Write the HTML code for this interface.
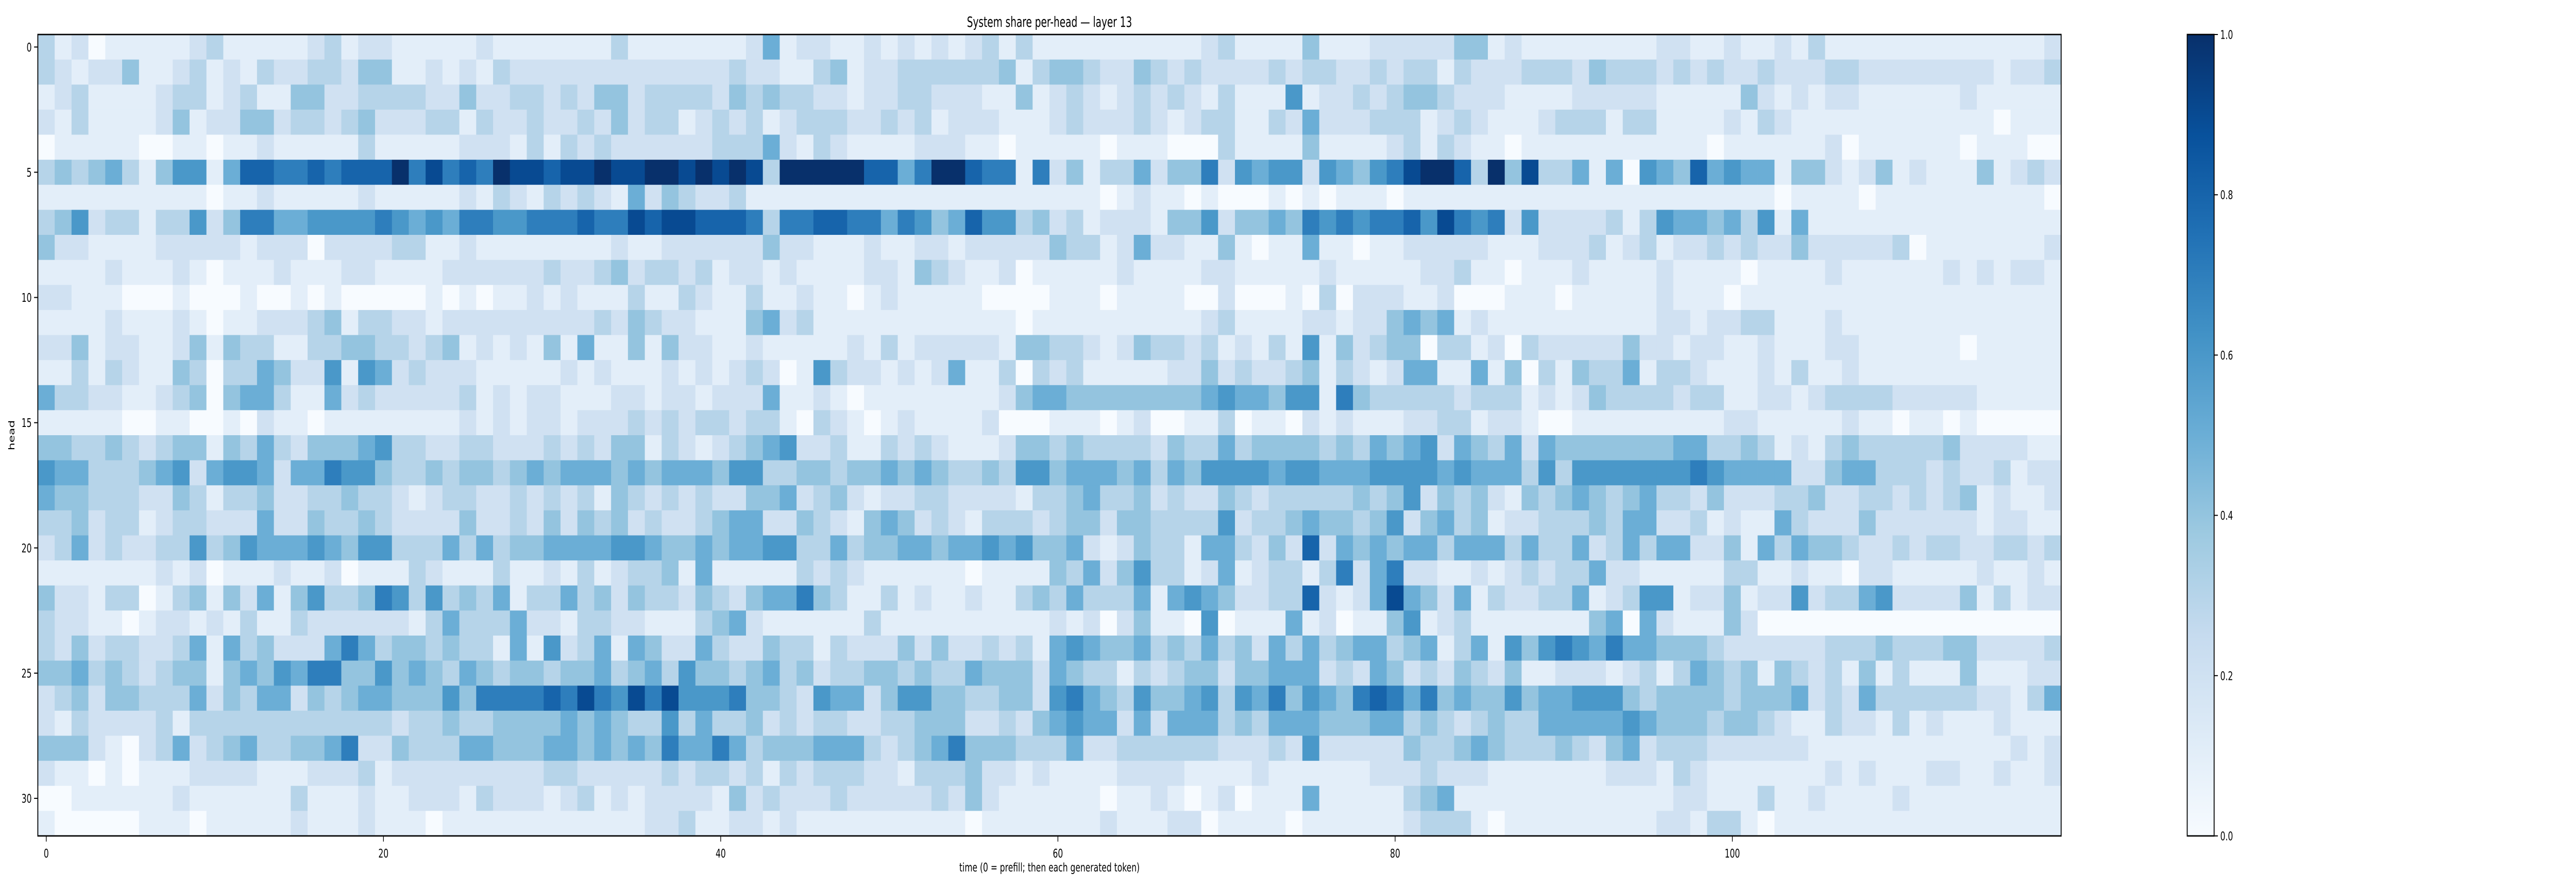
<!DOCTYPE html>
<html><head><meta charset="utf-8"><style>
html,body{margin:0;padding:0;background:#fff;overflow:hidden;width:100%;height:100%;}
svg{display:block;position:absolute;left:0;top:0;width:100vw;height:100vh;font-family:"DejaVu Sans","Liberation Sans",sans-serif;}
</style></head><body>
<svg id="chart" viewBox="0 0 7560 1728" preserveAspectRatio="none" xmlns="http://www.w3.org/2000/svg">
<rect x="0" y="0" width="7560" height="1728" fill="#fff"/>
<g id="cells"></g>
<g id="axes"></g>
<defs><linearGradient id="cbg" x1="0" y1="1" x2="0" y2="0">
<stop offset="0" stop-color="#f7fbff"/><stop offset="0.125" stop-color="#deebf7"/><stop offset="0.25" stop-color="#c6dbef"/><stop offset="0.375" stop-color="#9ecae1"/><stop offset="0.5" stop-color="#6baed6"/><stop offset="0.625" stop-color="#4292c6"/><stop offset="0.75" stop-color="#2171b5"/><stop offset="0.875" stop-color="#08519c"/><stop offset="1" stop-color="#08306b"/>
</linearGradient></defs>
<g id="cbar"></g>
<text x="3080" y="52" font-size="28" text-anchor="middle">System share per-head — layer 13</text>
<text x="3080" y="1692" font-size="23.5" text-anchor="middle">time (0 = prefill; then each generated token)</text>
<text x="0" y="0" font-size="23.5" text-anchor="middle" transform="translate(42,845) rotate(-90)">head</text>
</svg>
<script>
// values in tenths (0..10), per head row, left half (t=0..59) and right half (t=60..119)
const leftRows = [
[3,1,2,0,1,1,1,1,1,2,3,1,1,1,1,1,2,3,1,2,2,1,1,1,1,1,2,1,1,1,1,1,1,1,3,1,1,1,1,1,1,1,2,5,1,2,2,1,1,2,1,2,1,2,1,2,3,1,3,1],
[3,2,1,2,2,4,1,1,2,3,1,2,1,3,2,2,3,3,2,4,4,1,1,2,1,2,1,3,2,2,2,2,2,2,2,2,2,2,2,2,2,3,2,2,1,1,3,4,1,2,2,3,3,3,3,3,3,4,1,3],
[1,2,3,1,1,1,1,2,3,3,1,2,3,1,1,4,4,2,2,3,3,3,3,2,2,4,2,2,3,3,2,3,2,4,4,2,3,3,3,3,2,4,3,4,3,3,2,2,1,2,2,3,3,2,2,2,1,1,4,1],
[2,1,3,1,1,1,1,2,4,1,2,2,4,4,2,3,3,2,3,4,2,2,2,3,3,1,3,2,2,3,2,2,3,2,4,2,3,3,1,2,3,2,3,1,2,3,3,3,2,2,3,2,3,1,2,2,2,1,1,1],
[0,1,1,1,1,1,0,0,1,1,0,1,1,2,1,1,1,1,1,3,1,1,1,1,1,2,2,2,1,3,1,3,2,3,2,2,2,2,2,2,3,3,3,5,2,1,3,2,1,1,1,1,2,2,2,1,1,0,1,1],
[3,4,3,4,5,3,1,4,6,6,1,5,8,8,7,7,8,7,8,8,8,10,7,9,7,8,7,10,9,9,8,9,9,10,9,9,10,10,9,10,9,10,9,3,10,10,10,10,10,8,8,5,7,10,10,8,7,7,1,7],
[1,1,1,1,1,1,1,1,1,1,0,1,1,2,1,1,1,1,1,2,1,1,1,1,1,2,1,3,2,1,3,2,3,2,1,5,2,4,3,2,2,3,1,1,1,1,1,1,1,1,1,1,1,1,1,1,1,1,1,1],
[3,4,6,2,3,3,1,3,3,6,2,4,7,7,5,5,6,6,6,6,7,6,5,6,5,7,7,6,6,7,7,7,8,7,7,9,8,9,9,8,8,8,7,3,7,7,8,8,7,7,5,7,6,4,5,8,6,6,3,4],
[4,2,2,1,1,1,1,2,2,2,2,2,1,2,2,2,0,2,2,2,2,3,3,1,1,2,1,1,1,1,1,1,1,1,2,1,1,2,2,2,2,2,2,4,2,2,1,1,1,2,1,1,2,2,1,2,2,2,2,2],
[1,1,1,1,2,1,1,1,2,1,0,1,1,1,2,1,1,1,2,2,1,1,1,1,2,2,2,2,2,2,3,2,2,3,4,2,3,3,2,3,1,2,2,1,2,1,1,1,1,2,2,1,4,3,2,1,1,2,0,1],
[2,2,1,1,1,0,0,0,1,0,0,0,1,0,0,1,0,1,0,0,0,0,0,1,0,1,0,1,1,2,1,2,1,1,1,3,1,1,3,2,1,1,3,1,1,2,1,1,0,1,2,1,1,1,1,1,0,0,0,0],
[1,1,1,1,2,1,1,1,2,1,0,1,1,2,2,2,3,4,1,3,3,2,2,1,2,2,2,2,2,2,2,2,2,3,2,4,3,2,2,1,1,1,4,5,2,3,1,1,1,1,1,1,1,1,1,1,1,1,0,1],
[2,2,4,1,2,2,1,1,2,4,1,4,3,3,1,1,3,3,4,4,3,3,2,3,4,1,2,1,2,1,4,1,5,1,1,4,1,4,2,2,1,1,2,1,1,1,1,1,2,1,3,1,2,2,2,2,2,1,4,4],
[1,1,3,1,3,2,1,1,4,3,0,3,3,5,4,2,2,6,1,6,5,2,3,2,2,2,1,1,1,1,1,2,1,2,1,1,1,2,1,2,1,2,3,2,0,1,6,3,2,2,1,2,1,2,5,1,1,3,0,3],
[5,3,3,2,2,1,1,2,3,4,0,4,5,5,3,1,1,5,2,3,2,2,2,2,2,3,1,2,1,2,2,1,1,1,2,2,1,2,2,1,2,2,2,5,1,1,2,1,0,1,1,1,1,1,1,1,1,2,4,5],
[1,1,1,1,1,0,0,1,1,0,0,1,0,2,1,1,0,1,1,1,1,1,1,1,1,2,1,2,1,2,2,1,2,2,2,3,2,3,2,3,3,2,3,3,1,0,3,2,1,0,1,2,1,1,1,1,2,0,0,0],
[4,4,3,3,4,3,2,3,4,4,1,4,3,5,3,2,4,4,4,5,6,3,3,2,2,3,3,2,2,2,3,2,3,2,4,4,1,3,2,1,2,3,4,5,6,2,2,3,1,1,3,2,3,2,1,1,1,2,4,4],
[6,5,5,3,3,3,4,5,6,2,5,6,6,5,2,5,5,7,6,6,4,3,3,4,3,4,4,3,4,5,4,5,5,5,4,5,4,5,5,5,4,6,6,3,3,4,4,3,4,4,5,4,5,4,3,3,4,3,6,6],
[5,4,4,3,3,3,2,2,4,3,1,3,3,4,2,2,3,3,4,3,3,2,1,2,3,3,2,2,3,2,3,2,3,1,4,3,2,3,2,3,2,2,4,4,5,2,3,4,2,1,2,2,3,3,2,2,2,2,1,3],
[3,3,4,2,3,3,1,2,3,3,2,2,2,5,2,2,4,3,3,4,3,2,2,2,2,4,2,2,3,2,4,2,4,3,4,2,3,2,2,3,4,5,5,2,2,4,3,2,1,4,5,4,2,3,2,1,3,3,3,2],
[2,3,5,2,3,2,2,3,3,6,3,4,6,5,5,5,6,5,4,6,6,3,3,3,5,3,5,3,4,4,5,5,5,5,6,6,5,4,4,5,4,5,5,6,6,3,3,5,3,4,4,5,5,4,5,5,6,5,6,4],
[1,1,1,1,1,1,1,2,1,2,0,1,1,1,2,1,1,2,0,1,1,1,3,2,1,1,1,3,1,1,2,1,3,1,2,3,3,4,1,5,1,1,1,1,1,3,2,3,2,1,1,1,1,1,1,0,1,1,1,1],
[4,2,2,1,3,3,0,1,3,4,1,4,2,5,1,4,6,3,3,4,7,6,3,6,3,4,3,5,1,3,3,5,3,4,2,4,3,3,2,4,3,2,4,5,5,7,4,3,1,1,3,1,2,1,1,2,1,1,3,4],
[3,2,2,1,1,0,1,2,2,1,2,1,3,1,1,3,2,2,2,2,2,2,1,3,5,3,3,3,5,2,2,1,3,3,2,2,1,1,1,3,4,5,2,1,1,1,1,1,1,3,1,1,1,1,1,1,1,1,1,1],
[3,2,4,2,3,3,2,2,3,5,1,5,3,4,2,2,2,5,7,5,3,4,4,3,4,3,3,1,5,1,6,2,3,5,1,5,4,2,2,5,3,2,2,4,3,3,1,3,2,2,2,4,2,4,2,2,3,2,3,1],
[4,4,5,3,4,3,2,3,4,4,1,4,5,4,6,5,7,7,4,4,6,4,5,4,3,5,4,3,4,4,3,4,4,5,3,4,5,3,6,4,4,3,4,5,3,4,2,3,3,4,4,3,4,3,3,5,4,4,4,2],
[2,3,4,2,4,4,3,3,3,5,2,4,3,5,5,2,4,3,4,5,5,4,4,4,6,4,7,7,7,7,8,7,9,7,6,9,7,9,6,6,6,7,4,4,3,2,6,5,5,2,4,6,6,4,4,3,3,4,4,2],
[2,1,3,2,2,2,2,3,1,3,3,3,3,3,3,3,3,3,3,3,3,2,3,3,4,3,3,4,4,4,4,5,4,5,4,3,3,6,3,5,3,3,4,2,3,2,3,3,2,2,3,3,4,4,4,2,2,3,2,4],
[4,4,4,2,1,0,2,3,5,2,3,4,5,3,3,4,4,5,7,2,2,4,3,3,3,5,5,4,4,4,5,5,4,5,4,5,4,7,5,5,7,5,3,4,4,4,5,5,5,3,2,3,4,5,7,4,4,4,3,3],
[2,1,1,0,1,0,1,1,1,2,2,2,2,1,1,1,2,2,2,3,1,2,2,2,2,2,2,2,2,2,3,3,2,2,2,2,2,3,2,3,3,2,3,1,3,2,3,3,3,2,2,1,3,3,3,4,2,2,1,2],
[0,0,1,1,1,1,1,1,2,1,1,1,1,1,1,3,1,1,1,2,1,1,2,2,2,1,3,2,2,2,1,2,3,1,2,1,2,2,2,2,1,4,2,3,2,2,2,3,2,2,2,2,2,3,2,4,2,1,1,1],
[1,0,0,0,0,0,1,1,1,0,1,1,1,1,1,2,1,1,1,2,1,1,1,0,1,1,1,1,1,1,1,1,1,1,1,1,2,2,3,1,1,2,2,1,2,1,1,1,1,1,1,1,1,1,1,0,1,1,1,1]
];
const rightRows = [
[1,1,1,1,1,1,1,1,1,2,3,1,1,1,1,4,1,1,1,2,2,2,2,2,4,4,1,2,1,1,1,1,1,1,1,1,2,2,1,1,2,1,1,2,1,3,1,1,1,1,1,1,1,1,1,1,1,1,1,2],
[4,4,3,2,2,4,3,2,3,2,2,2,2,3,2,3,3,2,2,3,2,3,3,1,3,2,2,2,3,3,3,2,4,3,3,3,2,3,2,3,2,2,3,2,2,2,3,3,2,2,2,2,2,2,2,2,1,2,2,3],
[2,3,2,1,2,3,2,3,2,1,3,1,1,1,6,1,2,2,3,2,3,4,4,3,2,2,2,1,1,1,1,2,2,2,2,2,1,1,1,1,1,4,2,1,2,1,2,2,1,1,1,1,1,1,2,1,1,1,1,1],
[2,3,2,2,2,3,2,1,2,3,3,1,1,3,2,5,2,2,2,3,3,3,1,2,3,2,1,1,1,2,3,3,3,1,3,3,1,1,1,1,2,1,3,2,1,1,1,1,1,1,1,1,1,1,1,1,0,1,1,1],
[1,1,1,0,1,1,1,0,0,0,3,1,1,1,1,4,1,1,1,1,2,3,1,3,2,1,1,0,1,1,1,1,1,1,1,1,1,1,1,0,1,1,1,1,1,1,2,0,1,1,1,1,1,1,0,1,1,1,0,0],
[2,4,1,3,3,5,2,4,4,7,2,6,5,6,6,2,6,5,4,6,7,9,10,10,8,3,10,4,9,3,3,5,1,5,0,6,5,4,8,5,6,5,5,1,4,4,2,1,2,4,1,2,1,1,1,4,1,2,3,2],
[1,1,1,0,1,2,1,1,0,1,0,0,0,1,0,1,0,1,1,1,0,1,1,1,1,1,1,1,1,1,1,1,1,1,1,1,1,1,1,1,1,1,1,0,1,1,1,1,0,1,1,1,1,1,1,1,1,1,1,0],
[2,3,1,2,2,2,1,4,4,6,2,4,4,5,4,7,6,7,6,7,7,8,6,9,7,6,7,2,6,2,2,2,2,3,1,3,6,5,5,4,5,3,6,1,5,1,1,1,1,1,1,1,1,1,1,1,1,1,1,1],
[4,3,3,1,2,5,2,2,1,1,4,1,0,1,1,5,1,1,0,1,1,2,2,2,2,2,1,1,1,2,2,2,3,1,2,3,1,2,2,3,2,3,2,2,4,2,2,2,2,2,3,0,1,1,1,1,1,1,1,2],
[1,1,1,1,2,1,1,1,1,2,2,1,1,1,1,1,2,1,1,1,1,1,2,2,3,1,1,0,1,1,1,2,1,1,1,1,2,1,1,1,1,0,1,1,1,1,2,1,1,1,1,1,1,2,1,2,1,2,2,1],
[1,1,1,0,1,1,1,1,0,0,2,0,0,0,1,0,3,0,2,2,2,1,1,2,0,0,0,1,1,1,0,1,1,1,1,1,2,1,1,1,0,1,1,1,1,1,1,1,1,1,1,1,1,1,1,1,1,1,1,1],
[1,1,1,1,1,1,1,1,1,2,3,1,1,1,1,2,2,1,2,2,4,5,4,5,1,2,1,1,1,1,1,1,1,1,1,1,2,2,1,2,2,3,3,1,1,1,2,1,1,1,1,1,1,1,1,1,1,1,1,1],
[3,3,2,1,2,4,3,3,2,3,1,2,1,3,1,6,1,4,2,3,4,4,0,3,3,1,2,0,3,2,2,2,2,2,4,2,2,1,2,2,1,1,2,1,1,1,2,2,1,1,1,1,1,1,0,1,1,1,1,1],
[2,3,1,1,1,1,1,2,2,4,2,3,2,2,3,4,1,3,2,1,2,5,5,1,1,5,1,4,0,3,1,4,3,3,5,1,3,3,2,1,1,1,2,1,3,1,1,2,1,1,1,1,1,1,1,1,1,1,1,1],
[5,4,4,4,4,4,4,4,4,5,6,5,5,4,6,6,1,7,4,3,3,3,3,3,2,3,3,3,1,2,1,2,4,3,3,3,3,2,3,3,1,1,2,2,1,2,3,3,3,3,2,2,2,2,2,1,1,1,1,1],
[1,1,1,0,1,2,0,0,1,1,3,0,1,1,0,2,1,2,1,1,1,2,2,3,3,1,2,2,1,0,0,1,1,1,1,1,1,1,1,1,2,2,1,1,1,1,1,2,1,1,0,1,1,0,1,0,0,0,0,0],
[3,4,3,3,3,3,2,4,3,3,5,3,4,4,4,4,3,4,3,5,4,5,6,2,5,4,3,5,2,5,4,4,4,4,4,4,4,5,5,3,3,4,3,1,2,1,3,4,3,3,3,3,3,4,2,2,2,2,1,1],
[4,5,5,5,4,5,3,5,4,6,6,6,6,5,6,6,5,5,5,6,6,6,6,5,6,5,5,5,3,6,3,6,6,6,6,6,6,6,7,6,5,5,5,5,2,2,4,5,5,3,3,3,2,3,2,2,3,1,2,2],
[3,4,5,3,3,4,2,3,2,2,4,3,2,3,3,3,3,3,4,3,4,6,2,4,3,4,2,1,4,3,4,5,4,3,4,5,3,3,2,4,2,2,2,3,3,4,2,2,3,3,2,3,2,3,4,1,2,1,1,2],
[3,4,4,2,4,4,3,3,3,3,6,2,3,3,4,5,4,4,3,4,6,2,4,5,3,4,1,2,2,3,3,3,4,3,5,5,2,2,3,1,2,1,1,5,3,2,2,2,4,2,2,2,2,2,2,1,2,2,1,1],
[4,5,2,1,2,4,3,3,1,5,5,3,2,4,2,8,2,5,4,5,4,5,5,3,5,5,5,3,5,3,3,5,2,3,5,3,5,5,2,2,4,1,5,3,5,4,4,3,2,2,3,2,3,3,2,2,3,3,2,3],
[4,3,5,2,4,6,3,3,1,2,5,1,2,3,3,1,3,7,2,5,7,2,2,1,1,2,1,2,3,2,3,3,5,2,2,1,1,1,1,1,3,3,1,1,2,1,1,0,2,2,1,1,1,1,1,2,1,1,2,1],
[3,5,3,3,3,5,1,5,6,5,4,2,2,3,3,8,2,1,2,5,9,5,4,2,5,1,3,2,2,3,3,5,1,2,3,6,6,1,2,2,4,1,2,2,6,2,3,3,5,6,2,2,2,2,4,1,3,1,2,2],
[2,1,2,0,2,4,1,1,0,6,0,1,1,1,5,1,2,0,1,1,4,6,1,2,3,1,1,1,1,1,1,1,4,5,0,5,2,1,1,1,4,2,0,0,0,0,0,0,0,0,0,0,0,0,0,0,0,0,0,0],
[5,6,5,4,4,5,3,4,3,5,3,4,2,5,3,5,3,4,5,5,3,4,5,1,3,5,1,6,4,6,7,6,5,7,5,5,4,4,4,3,2,2,2,2,2,2,3,3,3,4,3,3,3,4,4,2,2,2,2,3],
[5,4,3,3,1,3,2,3,4,4,2,4,4,5,5,5,2,3,2,5,4,2,3,2,4,3,2,4,1,1,2,2,2,1,2,3,1,3,5,4,3,4,1,4,3,2,3,1,4,1,3,1,1,1,4,1,1,1,2,2],
[6,7,5,4,3,6,4,4,5,6,3,6,5,7,4,6,5,4,7,8,7,5,7,4,5,4,4,6,4,5,5,6,6,6,4,3,4,4,4,4,3,4,4,4,5,2,3,2,5,3,3,3,3,3,3,2,2,1,3,5],
[5,6,5,5,2,5,2,5,5,5,3,4,3,5,5,5,4,4,4,5,5,3,4,3,2,3,4,3,3,5,5,5,5,5,6,5,4,4,4,3,4,4,3,2,1,1,3,2,2,1,3,1,2,1,1,1,2,1,1,1],
[3,5,2,2,3,3,3,3,3,3,2,2,2,3,2,6,2,2,2,2,2,4,3,3,4,5,4,3,3,3,4,3,2,4,5,2,3,3,3,2,2,2,2,2,2,1,1,1,1,1,1,1,1,1,1,1,1,2,1,2],
[1,1,1,1,2,2,2,2,1,1,1,1,2,1,1,1,1,1,1,2,2,2,3,2,2,2,1,1,1,1,1,1,1,2,2,2,1,3,2,1,1,1,1,1,1,1,2,1,2,1,1,1,2,2,1,1,2,1,1,2],
[1,1,1,0,1,1,2,1,0,1,2,0,1,1,1,5,1,1,1,1,1,3,4,5,1,1,1,1,1,1,1,1,1,1,1,1,1,2,2,1,1,1,3,1,1,2,1,1,1,1,2,1,1,1,1,1,1,1,1,1],
[1,1,1,2,1,1,1,2,2,0,1,1,1,1,0,1,1,1,1,1,1,2,3,3,3,1,0,1,1,1,1,1,1,1,1,1,2,2,1,3,3,1,0,1,1,1,1,1,1,1,1,1,1,1,1,1,1,1,1,1]
];
const valueScale = 10;
const xTickValues = [0,20,40,60,80,100];
const yTickValues = [0,5,10,15,20,25,30];
const cbarTickValues = [0,0.2,0.4,0.6,0.8,1.0];
const cbarTickLabels = ["0.0","0.2","0.4","0.6","0.8","1.0"];

const NS = "http://www.w3.org/2000/svg";
const plot = {x0:111, x1:6049, y0:67, y1:1623};
const nCols = 120, nRows = 32;
const cw = (plot.x1 - plot.x0) / nCols, ch = (plot.y1 - plot.y0) / nRows;
const xPos = t => plot.x0 + t * cw;
const yPos = h => plot.y0 + h * ch;
const stops = ["#f7fbff","#deebf7","#c6dbef","#9ecae1","#6baed6","#4292c6","#2171b5","#08519c","#08306b"];
function hex(c){return [parseInt(c.slice(1,3),16),parseInt(c.slice(3,5),16),parseInt(c.slice(5,7),16)];}
function blues(v){
  v = Math.max(0, Math.min(1, v));
  const p = v * (stops.length - 1), i = Math.min(stops.length - 2, Math.floor(p)), f = p - i;
  const a = hex(stops[i]), b = hex(stops[i+1]);
  return "rgb(" + a.map((x,k)=>Math.round(x + (b[k]-x)*f)).join(",") + ")";
}
function mk(tag, attrs, parent){const e=document.createElementNS(NS,tag);for(const k in attrs)e.setAttribute(k,attrs[k]);parent.appendChild(e);return e;}

const cells = document.getElementById("cells");
for (let h = 0; h < nRows; h++) {
  const row = leftRows[h].concat(rightRows[h]);
  for (let t = 0; t < row.length && t < nCols; t++) {
    const r = mk("rect", {x:xPos(t).toFixed(2), y:yPos(h).toFixed(2), width:(cw+0.6).toFixed(2), height:(ch+0.6).toFixed(2), fill:blues(row[t]/valueScale)}, cells);
    
    
  }
}

const axes = document.getElementById("axes");
const frame = mk("rect", {x:plot.x0, y:plot.y0, width:plot.x1-plot.x0, height:plot.y1-plot.y0, fill:"none", stroke:"#000", "stroke-width":2.7}, axes);


xTickValues.forEach(v => {
  const x = xPos(v + 0.5);
  const tk = mk("line", {x1:x, y1:plot.y1, x2:x, y2:plot.y1+11, stroke:"#000", "stroke-width":2}, axes);
  
  
  const tx = mk("text", {x:x, y:plot.y1+42, "font-size":23.5, "text-anchor":"middle"}, axes);
  tx.textContent = String(v);
  
  
});
yTickValues.forEach(v => {
  const y = yPos(v + 0.5);
  const tk = mk("line", {x1:plot.x0-11, y1:y, x2:plot.x0, y2:y, stroke:"#000", "stroke-width":2}, axes);
  
  
  const tx = mk("text", {x:plot.x0-18, y:y+8.5, "font-size":23.5, "text-anchor":"end"}, axes);
  tx.textContent = String(v);
  
  
});

const cb = {x0:6419, x1:6498, y0:67, y1:1623};
const cbar = document.getElementById("cbar");
const cbr = mk("rect", {x:cb.x0, y:cb.y0, width:cb.x1-cb.x0, height:cb.y1-cb.y0, fill:"url(#cbg)", stroke:"#000", "stroke-width":2.7}, cbar);


const cbY = v => cb.y1 - v * (cb.y1 - cb.y0);
cbarTickValues.forEach((v, i) => {
  const y = cbY(v);
  const tk = mk("line", {x1:cb.x1, y1:y, x2:cb.x1+11, y2:y, stroke:"#000", "stroke-width":2}, cbar);
  
  
  const tx = mk("text", {x:cb.x1+18, y:y+8.5, "font-size":23.5, "text-anchor":"start"}, cbar);
  tx.textContent = cbarTickLabels[i];
  
  
});
</script>
</body></html>
